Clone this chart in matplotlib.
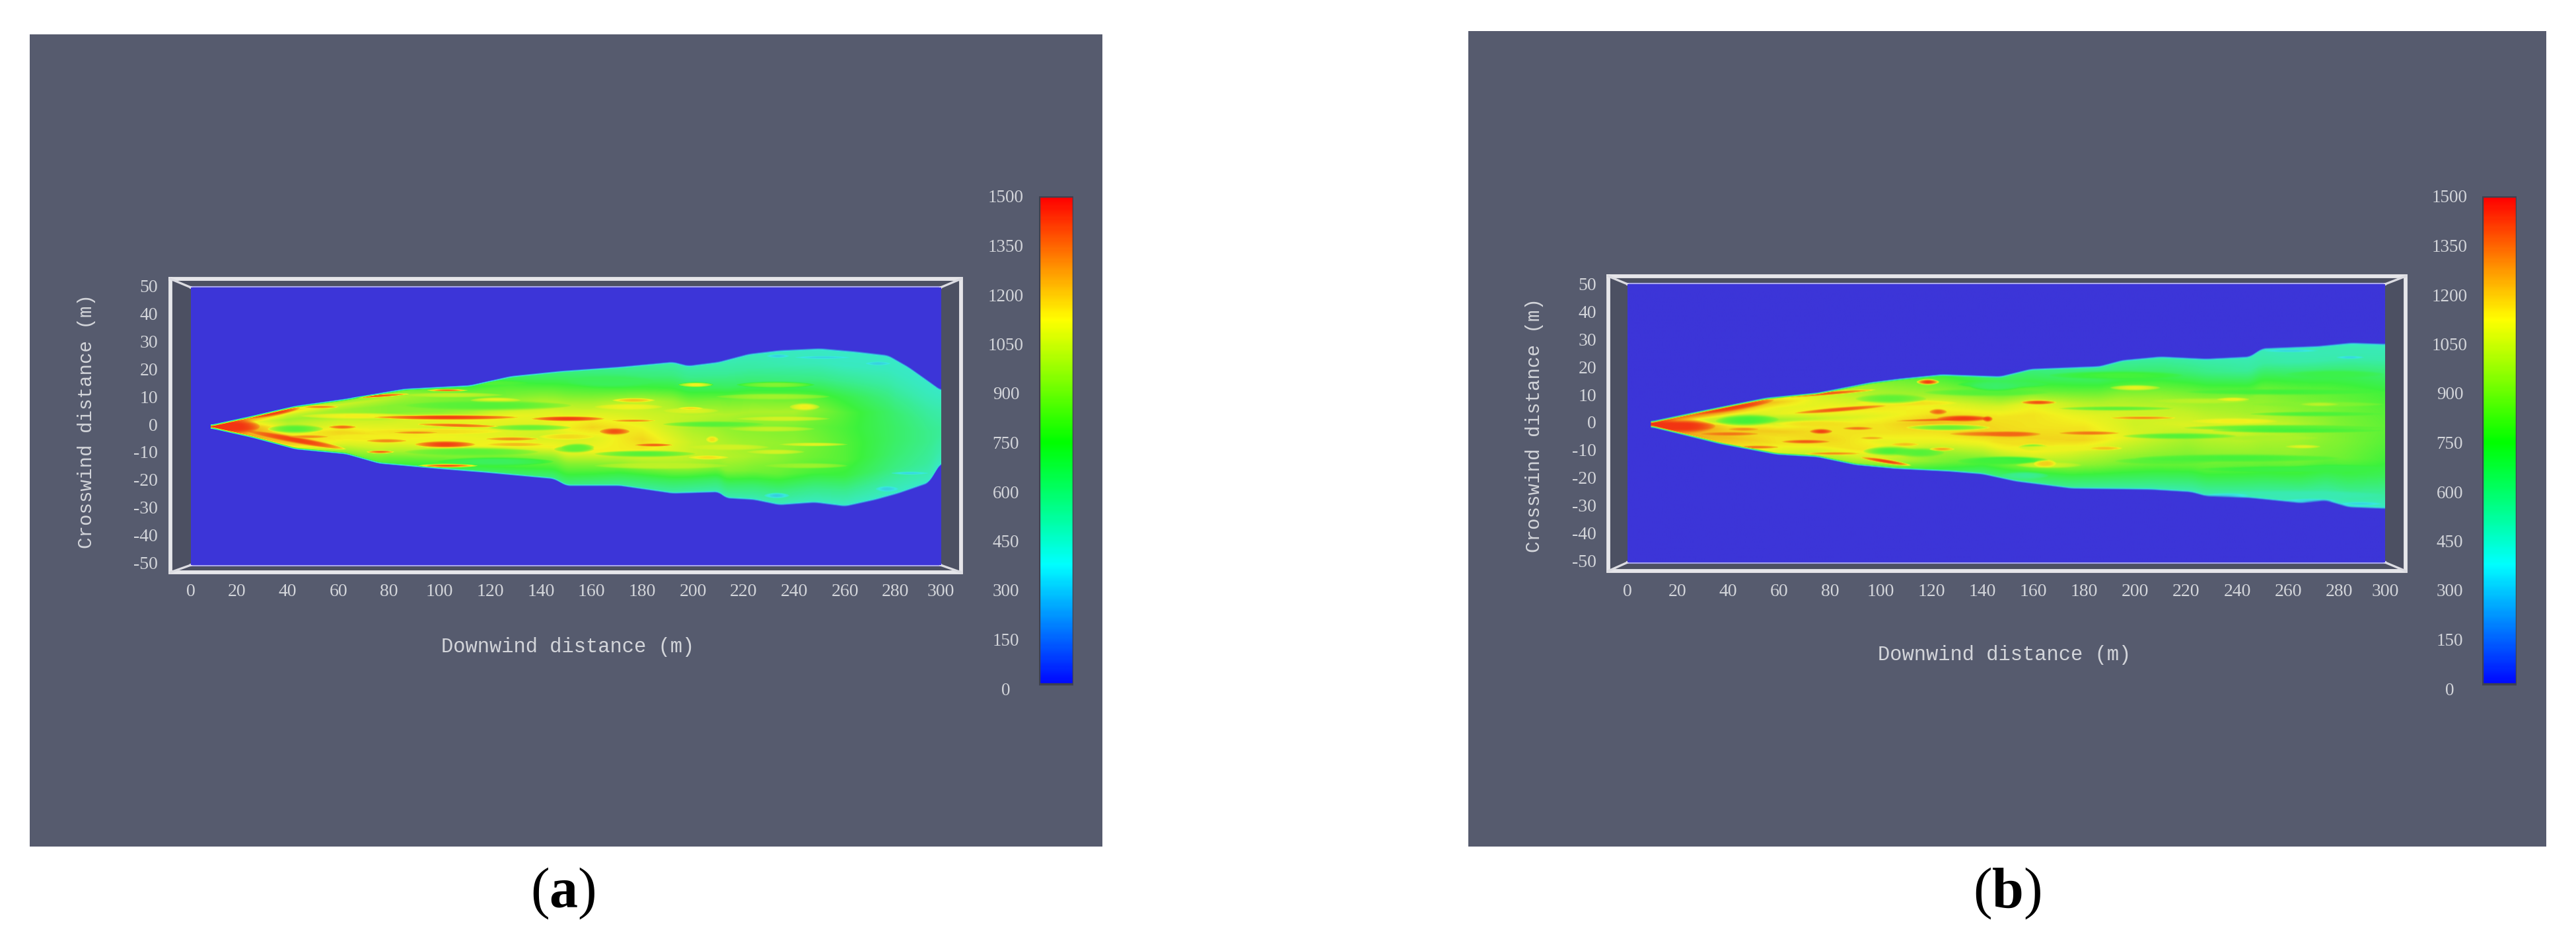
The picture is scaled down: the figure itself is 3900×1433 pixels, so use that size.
import matplotlib
matplotlib.use('Agg')
import matplotlib.pyplot as plt
import numpy as np
from matplotlib.colors import LinearSegmentedColormap, Normalize
from matplotlib.patches import Rectangle

W, H = 3900, 1433
plt.rcParams['mathtext.fontset'] = 'custom'
plt.rcParams['mathtext.rm'] = 'Liberation Serif'
plt.rcParams['mathtext.bf'] = 'Liberation Serif:bold'

x_ticks = list(range(0, 301, 20))
y_ticks = list(range(-50, 51, 10))
bar_ticks = list(range(0, 1501, 150))

# plume outline (downwind m, crosswind m)
upper_a_x = [10, 26, 43, 63, 86, 112, 128, 148, 171, 192, 198, 210, 222, 234, 250, 264, 277, 285, 293, 298]
upper_a_y = [0, 3.2, 6.8, 9.4, 13, 14.3, 17.6, 19.5, 21, 22.8, 21.4, 22.8, 25.7, 27, 27.7, 26.6, 25.2, 21, 15.8, 12.5]
lower_a_x = [10, 26, 43, 63, 76, 99, 118, 145, 150, 171, 192, 210, 213, 224, 234, 248, 260, 272, 281, 293, 298]
lower_a_y = [-1.7, -5, -9.2, -11, -14.4, -16.3, -17.7, -20, -22.5, -22.5, -25.3, -24.8, -27, -27.6, -29.5, -28.6, -30, -27.6, -25.3, -21.5, -14]
upper_b_x = [10, 27, 55, 75, 96, 108, 124, 147, 159, 186, 195, 210, 228, 245, 250, 272, 285, 298]
upper_b_y = [0.5, 3.8, 9, 10.8, 14.6, 16, 17.5, 16.8, 19.5, 20.5, 22.7, 24, 23.2, 24, 27, 27.8, 29, 28.6]
lower_b_x = [10, 37, 59, 75, 90, 106, 127, 140, 153, 175, 206, 222, 228, 245, 265, 275, 284, 298]
lower_b_y = [-1.9, -8, -11.8, -12.7, -15.6, -17, -18, -19, -21.6, -24.2, -24.6, -25.5, -27, -27.6, -29.5, -28.6, -31, -31.5]

# concentration across the plume: rows run from upper edge to lower edge
stations = [10, 20, 40, 60, 80, 100, 120, 140, 160, 180, 200, 220, 240, 260, 280, 300]
band_pos = [1.0, 0.9, 0.8, 0.7, 0.6, 0.5, 0.4, 0.3, 0.2, 0.1, 0.0]
bands_a = [
    [1400, 1250, 1000, 850, 850, 780, 680, 600, 560, 520, 480, 460, 440, 430, 430, 430],
    [1450, 1350, 1200, 1050, 1000, 900, 820, 740, 680, 620, 570, 520, 480, 450, 450, 450],
    [1480, 1300, 1050, 950, 900, 880, 880, 880, 820, 780, 720, 640, 600, 560, 500, 470],
    [1480, 1200, 950, 950, 900, 900, 980, 1020, 980, 1020, 900, 850, 820, 720, 570, 490],
    [1480, 1250, 1000, 1050, 1050, 1100, 1120, 1100, 1100, 1050, 1020, 980, 980, 800, 630, 500],
    [1480, 1350, 1050, 1100, 1100, 1050, 1080, 1080, 1180, 1120, 980, 900, 880, 780, 650, 520],
    [1480, 1350, 1100, 1180, 1150, 1120, 1100, 1050, 1080, 1180, 1030, 950, 920, 800, 650, 520],
    [1480, 1300, 1150, 1150, 1100, 1100, 1130, 1130, 1130, 1130, 1030, 980, 880, 800, 630, 500],
    [1480, 1250, 1200, 1100, 1000, 950, 900, 900, 920, 950, 930, 880, 800, 730, 590, 490],
    [1450, 1300, 1200, 1000, 850, 800, 800, 760, 740, 700, 670, 640, 600, 560, 500, 470],
    [1400, 1250, 1050, 850, 750, 680, 620, 580, 540, 510, 480, 460, 440, 430, 430, 430],
]
bands_b = [
    [1400, 1300, 1200, 1100, 1000, 880, 760, 640, 580, 540, 510, 490, 470, 450, 450, 450],
    [1450, 1400, 1350, 1200, 1050, 950, 860, 760, 700, 660, 630, 600, 540, 500, 500, 500],
    [1480, 1300, 1200, 1100, 1100, 1000, 950, 900, 850, 820, 800, 770, 740, 710, 690, 650],
    [1480, 1150, 1000, 1100, 1150, 1150, 1100, 1050, 1100, 1000, 950, 920, 930, 870, 810, 760],
    [1480, 1200, 950, 950, 1050, 1100, 1150, 1150, 1150, 1100, 1050, 1020, 980, 920, 860, 800],
    [1480, 1400, 1150, 1100, 1150, 1150, 1230, 1180, 1150, 1150, 1050, 1080, 1080, 1020, 890, 820],
    [1480, 1350, 1200, 1200, 1150, 1150, 1150, 1180, 1180, 1180, 1080, 980, 1000, 970, 890, 800],
    [1480, 1300, 1200, 1150, 1180, 1100, 1100, 1100, 1150, 1050, 980, 910, 920, 920, 860, 760],
    [1480, 1250, 1230, 1150, 1150, 1150, 950, 950, 1000, 920, 860, 830, 800, 780, 730, 680],
    [1450, 1300, 1200, 1100, 1050, 1050, 900, 760, 740, 700, 680, 650, 630, 590, 570, 540],
    [1400, 1300, 1150, 1050, 950, 820, 700, 590, 550, 510, 490, 470, 450, 440, 430, 430],
]

# broad yellow and green ribbons, then the pale pockets near the rim
ribbons_a = [
    (188, 210, 4.9, 4.9, 1.0, 1080), (161, 188, 6.3, 6.3, 1.0, 1120), (209, 254, 10, 10, 1.0, 960),
    (217, 248, 14.3, 14.3, 1.0, 900), (188, 228, 0, 0, 1.0, 800), (148, 161, -8.3, -8.3, 1.2, 820),
    (161, 201, -10.7, -10.7, 1.1, 800), (198, 230, -8.3, -8.3, 1.0, 1060), (214, 248, -1.7, -1.7, 0.9, 1030),
    (217, 254, 2, 2, 0.8, 1060), (221, 244, -10, -10, 0.8, 1060), (228, 261, -15, -15, 0.9, 950),
    (161, 214, -15, -15, 1.1, 1020), (112, 132, 8.7, 8.7, 0.9, 1120), (86, 125, 10.6, 10.6, 0.8, 1020),
    (86, 152, 6.8, 6.8, 1.6, 800), (32, 54, -1.7, -1.7, 1.4, 800), (72, 125, -2.6, -2.6, 1.0, 1160),
    (119, 152, -1.2, -1.2, 1.0, 840), (139, 161, -4.5, -4.5, 1.0, 1170), (86, 139, -10, -10, 1.4, 820),
    (145, 161, -9, -9, 1.2, 820), (99, 145, -13.5, -13.5, 1.4, 670), (150, 185, 15.5, 15.5, 2.0, 680),
    (95, 135, 15, 15, 1.0, 800), (45, 90, 3, 3, 1.0, 1130), (55, 95, -4.5, -4.5, 1.0, 1130),
    (228, 238, -25.8, -25.8, 0.9, 320), (272, 281, -23.4, -23.4, 0.9, 330), (278, 293, -17.7, -17.7, 0.5, 340),
    (229, 238, 24.7, 24.7, 0.6, 330), (268, 278, 22, 22, 0.6, 330), (240, 262, 24.2, 24.2, 0.5, 340),
]
ribbons_b = [
    (117, 166, 10.8, 10.8, 1.2, 800), (130, 166, 13.7, 13.7, 1.2, 680), (147, 166, -19.3, -19.3, 1.2, 550),
    (93, 114, -10.4, -10.4, 1.5, 780), (137, 166, -13.7, -13.7, 1.2, 700), (58, 90, -0.5, -0.5, 1.0, 1160),
    (90, 130, 7, 7, 1.0, 1160), (143, 166, -7, -7, 1.0, 1160), (154, 166, -9, -9, 1.0, 800),
    (110, 143, -1.9, -1.9, 1.0, 840), (206, 245, 7.7, 7.7, 0.9, 1010), (232, 272, -5.7, -5.7, 0.9, 980),
    (146, 192, -9.4, -9.4, 1.0, 1110), (153, 179, -15.5, -15.5, 1.0, 1050), (192, 232, -14, -14, 1.2, 800),
    (166, 219, 17, 17, 1.4, 770), (219, 298, -2, -2, 1.0, 800), (245, 298, 6.5, 6.5, 0.9, 900),
    (259, 298, 17.4, 17.4, 1.3, 720), (259, 298, -16.7, -16.7, 1.3, 720), (248, 298, 26, 26, 1.6, 480),
    (226, 298, -26.4, -26.4, 1.6, 480), (170, 215, 5, 5, 0.7, 820), (195, 240, -5, -5, 1.0, 800),
    (200, 280, -13, -13, 1.3, 770), (245, 298, 3, 3, 0.8, 780), (230, 298, -3, -3, 0.8, 770),
    (220, 298, 11, 11, 1.0, 760), (225, 298, -17, -17, 1.1, 730), (35, 60, 0.5, 1, 1.8, 760),
    (90, 118, 8.5, 8.5, 1.6, 820), (105, 125, -11, -11, 1.5, 800), (135, 155, 13, 13, 1.4, 650),
    (130, 160, -14, -14, 1.4, 760), (227, 245, -26.4, -26.4, 0.6, 340), (259, 279, -28.3, -28.3, 0.6, 340),
    (280, 297, -29.5, -29.5, 0.6, 340), (250, 272, 25.9, 25.9, 0.5, 340), (279, 290, 23.5, 23.5, 0.5, 340),
]

# hot streaks: x start, x end, y start, y end, half width, value
streaks_a = [
    (10, 29, -0.8, -0.8, 2.4, 1500), (24, 45, 2.5, 6.0, 1.1, 1470), (24, 63, -2.5, -9.0, 1.1, 1470),
    (46, 60, 6.3, 6.3, 0.5, 1320), (64, 88, 9.6, 11, 0.5, 1420), (95, 111, 12.3, 12.3, 0.4, 1380),
    (74, 131, 2.5, 2.5, 0.8, 1470), (136, 165, 2.0, 2.0, 0.8, 1470), (168, 185, 1.3, 1.3, 0.4, 1320),
    (91, 123, 0, -0.8, 0.6, 1380), (56, 67, -1, -1, 0.6, 1380), (82, 99, -3, -3, 0.4, 1320),
    (71, 87, -6, -6, 0.6, 1330), (90, 114, -7.3, -7.3, 1.1, 1470), (118, 139, -5.3, -5.3, 0.6, 1320),
    (119, 141, -7.3, -7.3, 0.6, 1230), (40, 56, -4.5, -4.5, 0.5, 1320), (71, 82, -10, -10, 0.5, 1380),
    (91, 115, -15, -15, 0.6, 1420), (163, 175, -2.6, -2.6, 1.1, 1440), (177, 192, -7.5, -7.5, 0.5, 1400),
    (168, 185, 8.7, 8.7, 0.7, 1220), (194, 208, 14.3, 14.3, 0.8, 1130), (238, 250, 6.3, 6.3, 1.2, 1130),
    (234, 261, -7.3, -7.3, 0.6, 1090), (198, 214, -12, -12, 0.7, 1160), (205, 210, -5.5, -5.5, 1.1, 1160),
    (194, 204, 5.8, 5.8, 0.5, 1160),
]
streaks_b = [
    (10, 35, -1.4, -1.4, 2.2, 1500), (25, 58, 3.3, 8, 1.4, 1480), (58, 98, 9, 11.8, 0.6, 1420),
    (114, 123, 14.6, 14.6, 0.9, 1480), (66, 102, 3.3, 6, 0.7, 1420), (106, 143, 0.5, 1.4, 0.4, 1400),
    (122, 143, 1.4, 1.4, 1.0, 1480), (119, 126, 3.8, 3.8, 0.9, 1400), (155, 169, 7.2, 7.2, 0.7, 1440),
    (127, 160, -4.2, -4.2, 0.8, 1370), (29, 52, -4.2, -4.2, 0.6, 1370), (40, 52, -2.5, -2.5, 0.5, 1320),
    (72, 81, -3.3, -3.3, 0.8, 1470), (85, 97, -2.2, -2.2, 0.5, 1370), (61, 80, -7, -7, 0.6, 1420),
    (92, 101, -5.7, -5.7, 0.4, 1270), (43, 60, -9, -9, 0.5, 1370), (70, 92, -11.3, -11.3, 0.5, 1320),
    (92, 112, -12.7, -15.6, 0.7, 1470), (104, 115, -8, -8, 0.6, 1220), (119, 129, -9.7, -9.7, 0.6, 1270),
    (160, 166, -15, -15, 1.1, 1170), (140, 144, 1.2, 1.2, 0.9, 1470), (190, 216, 1.6, 1.6, 0.5, 1320),
    (140, 163, -4.3, -4.3, 0.9, 1400), (170, 194, -3.9, -3.9, 0.6, 1370), (182, 195, -9.4, -9.4, 0.6, 1220),
    (162, 169, -14.9, -14.9, 1.2, 1190), (222, 256, 0.4, 0.4, 1.0, 1130), (232, 245, 8.3, 8.3, 0.6, 1130),
    (190, 210, 12.5, 12.5, 0.9, 1110), (259, 273, -8.8, -8.8, 0.6, 1090), (265, 280, 6.5, 6.5, 0.6, 1010),
]

# colours as they appear inside the picture, slightly washed out against the colour bar
field_cmap = LinearSegmentedColormap.from_list('field', ['#3c35d8', '#38e8e0', '#3cf23c', '#f2f21e', '#f23412'])
bar_cmap = LinearSegmentedColormap.from_list('bar', ['#0000ff', '#00ffff', '#00ff00', '#ffff00', '#ff0000'])
norm = Normalize(0, 1500)

BG = '#565b6e'
TEXT = '#d3d5da'
SERIF = 'Liberation Serif'
MONO = 'Liberation Mono'


def px_axes(fig, left, top, right, bottom):
    return fig.add_axes([left / W, 1 - bottom / H, (right - left) / W, (bottom - top) / H])


def build_field(ux, uy, lx, ly, bands, streaks, extent):
    xs = np.linspace(extent[0], extent[1], 1136)
    ys = np.linspace(extent[2], extent[3], 420)
    soft = np.ones(13) / 13
    up = np.convolve(np.pad(np.interp(xs, ux, uy), 6, mode='edge'), soft, mode='valid')
    lo = np.convolve(np.pad(np.interp(xs, lx, ly), 6, mode='edge'), soft, mode='valid')
    table = np.array(bands, float)
    by_col = np.array([np.interp(xs, stations, row) for row in table[::-1]])
    X, Y = np.meshgrid(xs, ys)
    s = (Y - lo) / (up - lo)
    idx = np.clip(s * 10, 0, 9.999)
    i0 = idx.astype(int)
    f = idx - i0
    cols = np.arange(len(xs))[None, :].repeat(len(ys), 0)
    v = by_col[i0, cols] * (1 - f) + by_col[i0 + 1, cols] * f
    for x0, x1, y0, y1, hw, val in streaks:
        t = np.clip((X - x0) / (x1 - x0), 0, 1)
        taper = np.sin(np.pi * t) ** 0.5
        if x0 == 10:
            taper = np.where(t < 0.5, 1, taper)
        w = np.exp(-((Y - (y0 + (y1 - y0) * t)) / (hw * np.maximum(taper, 0.01))) ** 4) * taper
        w[(X < x0) | (X > x1)] = 0
        v = v * (1 - w) + val * w
    dist = np.minimum(Y - lo, up - Y)
    rim = np.clip(dist / 0.8, 0, 1)
    rim[X < 9.5] = 0
    return v * rim


def panel(fig, over, ux, uy, lx, ly, bands, streaks, g, img, box, x0_px, x_scale, y0_px, tag):
    over.add_patch(Rectangle((g[0], g[1]), g[2] - g[0], g[3] - g[1], fc=BG, ec='none', zorder=0))
    # gutters of the 3D box
    over.add_patch(Rectangle((box[0], box[1]), box[2] - box[0], box[3] - box[1], fc='#4c5062', ec='none', zorder=1))
    over.plot([box[0], box[2], box[2], box[0], box[0]], [box[1], box[1], box[3], box[3], box[1]],
              color='#e6e6ea', lw=4.2, zorder=2, solid_joinstyle='miter')

    # data axes: runs along the tick labels, image sits inside
    left = x0_px
    right = x0_px + 300 * x_scale
    top = y0_px - 50 * 4.19
    bottom = y0_px + 50 * 4.19
    ax = px_axes(fig, left, top, right, bottom)
    ax.patch.set_alpha(0)
    ext = ((img[0] - x0_px) / x_scale, (img[2] - x0_px) / x_scale,
           (y0_px - img[3]) / 4.19, (y0_px - img[1]) / 4.19)
    field = build_field(ux, uy, lx, ly, bands, streaks, ext)
    ax.imshow(field, origin='lower', extent=ext, cmap=field_cmap, norm=norm, aspect='auto',
              interpolation='bilinear', clip_on=False)
    ax.set_xlim(0, 300)
    ax.set_ylim(-50, 50)
    for sp in ax.spines.values():
        sp.set_visible(False)
    ax.set_xticks(np.clip(x_ticks, ext[0], ext[1]), [str(t) for t in x_ticks])
    ax.set_yticks(y_ticks, [str(t) for t in y_ticks])
    ax.tick_params(length=0, labelcolor=TEXT)
    for t in ax.get_xticklabels() + ax.get_yticklabels():
        t.set_family(SERIF)
        t.set_fontsize(20)
    ax.tick_params(axis='x', pad=(tag['xtick_y'] - 11 - bottom) * 0.72)
    ax.tick_params(axis='y', pad=(left - tag['ytick_r']) * 0.72)

    # inner edge lines and corner diagonals
    for yy in (img[1], img[3]):
        over.plot([img[0], img[2]], [yy, yy], color='#a7a5ea', lw=3.0, zorder=3)
    for cx, ix in ((box[0], img[0]), (box[2], img[2])):
        for cy, iy in ((box[1], img[1]), (box[3], img[3])):
            over.plot([cx, ix], [cy, iy], color='#dcdce2', lw=2.4, zorder=3)

    over.text(tag['xl_x'], tag['xl_y'], 'Downwind distance (m)', family=MONO, fontsize=22,
              color=TEXT, ha='center', va='center', zorder=5)
    over.text(tag['yl_x'], tag['yl_y'], 'Crosswind distance (m)', family=MONO, fontsize=21,
              color=TEXT, ha='center', va='center', rotation=90, zorder=5)

    # colour bar
    cb = tag['bar']
    cax = px_axes(fig, cb[0], 297, cb[1], 1042)
    grad = np.linspace(14, 1500, 300)[:, None]
    cax.imshow(grad, origin='lower', extent=(0, 1, 14, 1500), cmap=bar_cmap, norm=norm, aspect='auto')
    cax.add_patch(Rectangle((0, 14), 1, 1486, fc='none', ec='#3f4250', lw=2.5))
    cax.set_xlim(0, 1)
    cax.set_ylim(0, 1500)
    cax.set_xticks([])
    cax.set_yticks(bar_ticks, [str(t) for t in bar_ticks])
    cax.tick_params(length=0, labelcolor=TEXT, pad=(cb[0] - tag['bar_lab']) * 0.72)
    for t in cax.get_yticklabels():
        t.set_family(SERIF)
        t.set_fontsize(19.5)
        t.set_ha('center')
    for sp in cax.spines.values():
        sp.set_visible(False)
    cax.patch.set_alpha(0)

    over.text(tag['cap_x'], 1352, tag['cap'], fontsize=62, color='black', ha='center', va='center',
              family=SERIF, zorder=5)


fig = plt.figure(figsize=(W / 100, H / 100), dpi=100, facecolor='white')
over = fig.add_axes([0, 0, 1, 1])
over.set_xlim(0, W)
over.set_ylim(H, 0)
over.axis('off')

panel(fig, over, upper_a_x, upper_a_y, lower_a_x, lower_a_y, bands_a, ribbons_a + streaks_a,
      (45, 52, 1669, 1281), (289, 435, 1424, 855), (258, 422, 1455, 866), 282, 3.835, 642,
      dict(xtick_y=894, ytick_r=239, xl_x=860, xl_y=979, yl_x=131, yl_y=637,
           bar=(1573, 1625), bar_lab=1523, cap_x=852, cap=r'$\mathrm{(}\mathbf{a}\mathrm{)}$'))
panel(fig, over, upper_b_x, upper_b_y, lower_b_x, lower_b_y, bands_b, ribbons_b + streaks_b,
      (2223, 47, 3855, 1281), (2464, 430, 3611, 851), (2435, 418, 3642, 864), 2462, 3.854, 639,
      dict(xtick_y=894, ytick_r=2417, xl_x=3035, xl_y=991, yl_x=2323, yl_y=643,
           bar=(3758, 3810), bar_lab=3709, cap_x=3039, cap=r'$\mathrm{(}\mathbf{b}\mathrm{)}$'))

fig.savefig('out.png', dpi=100)
